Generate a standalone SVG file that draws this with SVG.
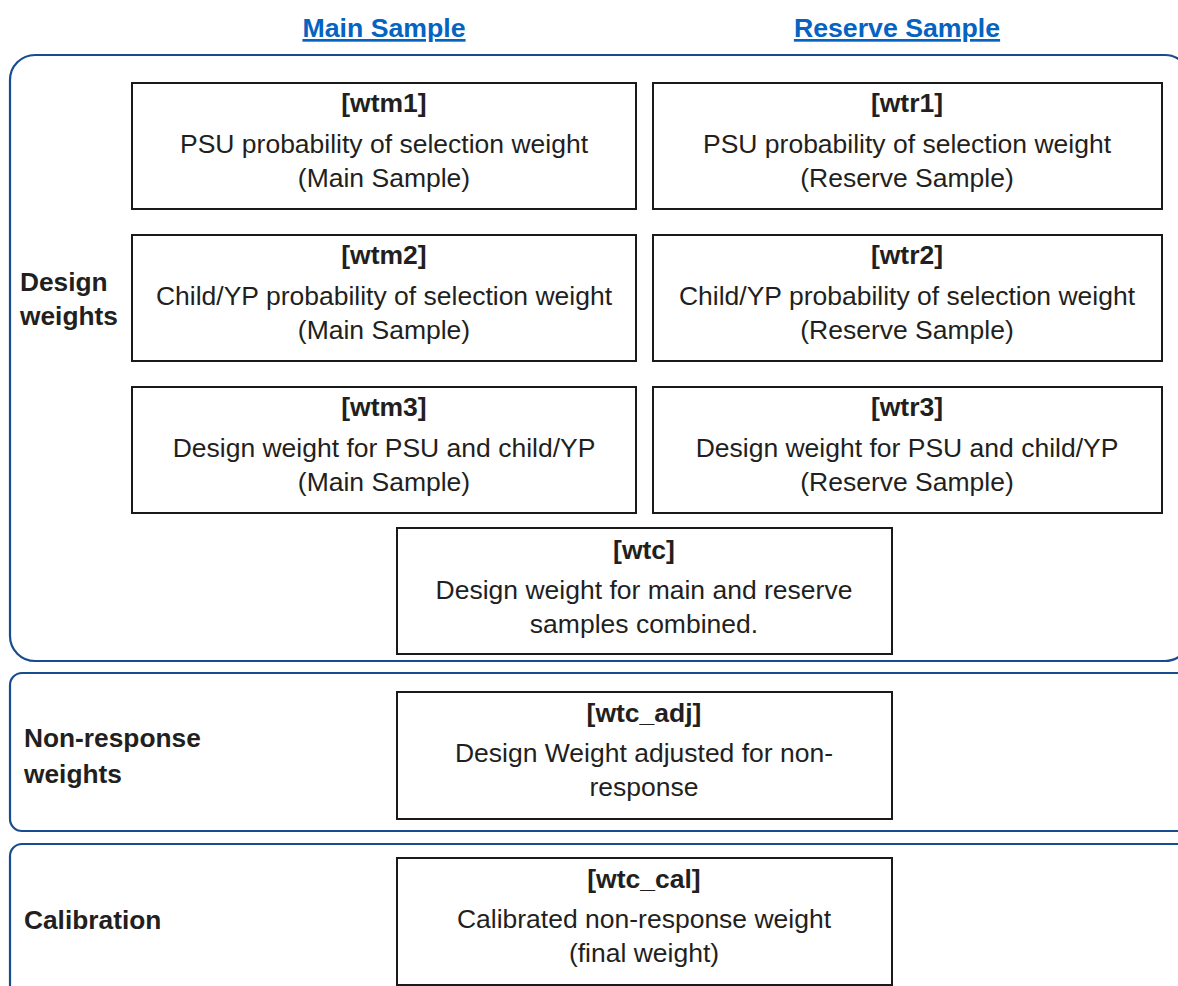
<svg xmlns="http://www.w3.org/2000/svg" width="1178" height="986" viewBox="0 0 1178 986">
<style>
.bg{fill:#fff}
.cont{fill:none;stroke:#174d8e;stroke-width:2.2}
.box{fill:#fff;stroke:#1a1a1a;stroke-width:2}
.t{font-family:"Liberation Sans",Arial,sans-serif;font-size:26.5px;fill:#231f20;text-anchor:middle}
.b{font-weight:bold}
.lab{font-family:"Liberation Sans",Arial,sans-serif;font-size:26.3px;font-weight:bold;fill:#231f20}
.hdr{font-family:"Liberation Sans",Arial,sans-serif;font-size:26.7px;font-weight:bold;fill:#0563c1;text-anchor:middle;text-decoration:underline}
</style>
<rect class="bg" x="0" y="0" width="1178" height="986"/>
<g id="headers">
<text class="hdr" x="384" y="37">Main Sample</text>
<text class="hdr" x="897" y="37">Reserve Sample</text>
</g>
<g id="containers">
<rect id="design" class="cont" x="10" y="55" width="1180" height="606" rx="25" ry="25"/>
<rect id="nonresponse" class="cont" x="10" y="673" width="1185" height="158" rx="12" ry="12"/>
<rect id="calibration" class="cont" x="10" y="844" width="1185" height="160" rx="12" ry="12"/>
</g>
<g id="labels">
<text class="lab" x="20" y="291">Design</text>
<text class="lab" x="20" y="325">weights</text>
<text class="lab" x="24" y="747">Non-response</text>
<text class="lab" x="24" y="783">weights</text>
<text class="lab" x="24" y="929">Calibration</text>
</g>
<g id="wtm1">
<rect class="box" x="132" y="83" width="504" height="126"/>
<text class="t b" x="384" y="112">[wtm1]</text>
<text class="t" x="384" y="153">PSU probability of selection weight</text>
<text class="t" x="384" y="187">(Main Sample)</text>
</g>
<g id="wtr1">
<rect class="box" x="653" y="83" width="509" height="126"/>
<text class="t b" x="907" y="112">[wtr1]</text>
<text class="t" x="907" y="153">PSU probability of selection weight</text>
<text class="t" x="907" y="187">(Reserve Sample)</text>
</g>
<g id="wtm2">
<rect class="box" x="132" y="235" width="504" height="126"/>
<text class="t b" x="384" y="264">[wtm2]</text>
<text class="t" x="384" y="305">Child/YP probability of selection weight</text>
<text class="t" x="384" y="339">(Main Sample)</text>
</g>
<g id="wtr2">
<rect class="box" x="653" y="235" width="509" height="126"/>
<text class="t b" x="907" y="264">[wtr2]</text>
<text class="t" x="907" y="305">Child/YP probability of selection weight</text>
<text class="t" x="907" y="339">(Reserve Sample)</text>
</g>
<g id="wtm3">
<rect class="box" x="132" y="387" width="504" height="126"/>
<text class="t b" x="384" y="416">[wtm3]</text>
<text class="t" x="384" y="457">Design weight for PSU and child/YP</text>
<text class="t" x="384" y="491">(Main Sample)</text>
</g>
<g id="wtr3">
<rect class="box" x="653" y="387" width="509" height="126"/>
<text class="t b" x="907" y="416">[wtr3]</text>
<text class="t" x="907" y="457">Design weight for PSU and child/YP</text>
<text class="t" x="907" y="491">(Reserve Sample)</text>
</g>
<g id="wtc">
<rect class="box" x="397" y="528" width="495" height="126"/>
<text class="t b" x="644" y="559">[wtc]</text>
<text class="t" x="644" y="599">Design weight for main and reserve</text>
<text class="t" x="644" y="633">samples combined.</text>
</g>
<g id="wtc_adj">
<rect class="box" x="397" y="692" width="495" height="127"/>
<text class="t b" x="644" y="722">[wtc_adj]</text>
<text class="t" x="644" y="762">Design Weight adjusted for non-</text>
<text class="t" x="644" y="796">response</text>
</g>
<g id="wtc_cal">
<rect class="box" x="397" y="858" width="495" height="127"/>
<text class="t b" x="644" y="888">[wtc_cal]</text>
<text class="t" x="644" y="928">Calibrated non-response weight</text>
<text class="t" x="644" y="962">(final weight)</text>
</g>
<g id="connectors"></g>
</svg>
